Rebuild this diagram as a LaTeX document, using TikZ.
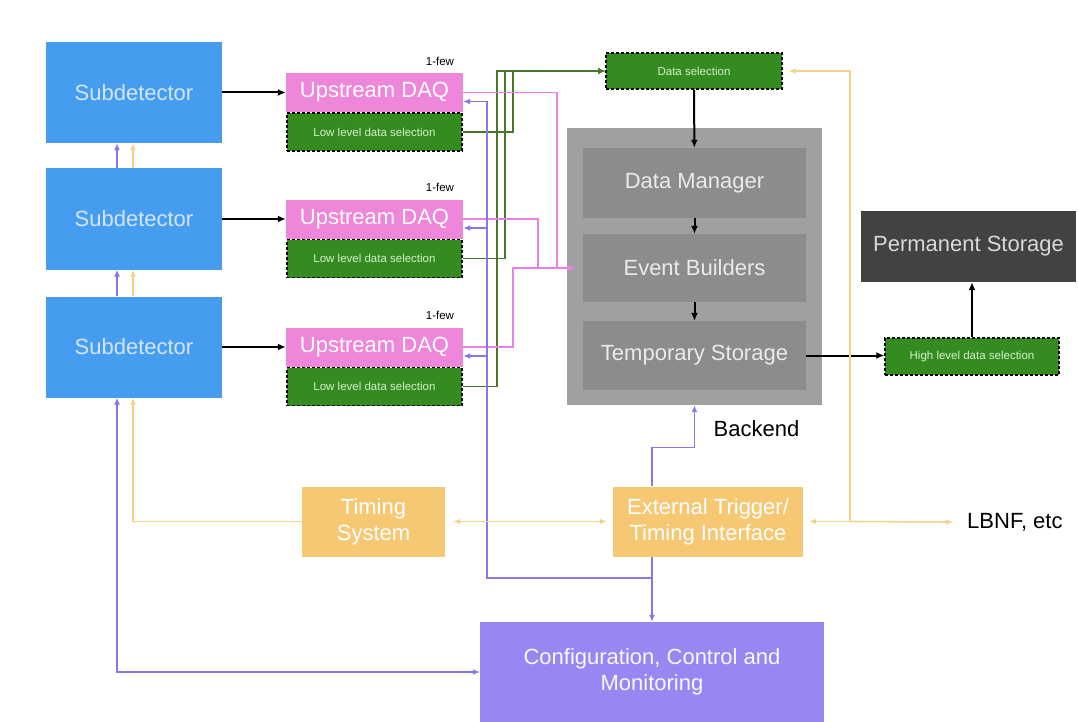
\documentclass[tikz,border=0pt]{standalone}
\usepackage{fontspec}
\setmainfont{Liberation Sans}
\usepackage{tikz}
\usetikzlibrary{arrows.meta, positioning, calc}
\definecolor{sdBlue}{RGB}{70,157,240}
\definecolor{sdText}{RGB}{210,230,255}
\definecolor{daqPink}{RGB}{238,134,218}
\definecolor{selGreen}{RGB}{52,140,32}
\definecolor{selText}{RGB}{215,238,205}
\definecolor{selLine}{RGB}{72,118,44}
\definecolor{beGray}{RGB}{160,160,160}
\definecolor{beInner}{RGB}{140,140,140}
\definecolor{permDark}{RGB}{66,66,66}
\definecolor{tmOrange}{RGB}{246,200,115}
\definecolor{tmLine}{RGB}{244,210,135}
\definecolor{cfgPurple}{RGB}{152,134,242}
\definecolor{cfgLine}{RGB}{138,118,232}
\definecolor{pinkLine}{RGB}{230,130,232}

\begin{document}
\begin{tikzpicture}[x=1pt, y=-1pt,
    box/.style={inner sep=2pt, align=center, font=\fontsize{22}{26}\selectfont},
    subdet/.style={box, fill=sdBlue, text=sdText, minimum width=176pt, minimum height=101pt},
    daq/.style={box, fill=daqPink, text=white, minimum width=177pt, minimum height=39pt},
    selbox/.style={box, fill=selGreen, text=selText, draw=black, dashed, line width=1.3pt,
        dash pattern=on 3pt off 2pt, font=\fontsize{11.5}{13}\selectfont},
    grayin/.style={box, fill=beInner, text=white!92!black, minimum width=223pt},
    tmbox/.style={box, fill=tmOrange, text=white, minimum height=70pt},
    lbl/.style={inner sep=0pt, font=\fontsize{22}{26}\selectfont},
    blk/.style={line width=2pt, -{Latex[length=8pt,width=7pt]}},
    selline/.style={line width=1.8pt, selLine, -{Latex[length=7pt,width=6pt]}},
    pinkln/.style={line width=1.6pt, pinkLine, -{Latex[length=7pt,width=6pt]}},
    cfgln/.style={line width=1.6pt, cfgLine, -{Latex[length=7pt,width=6pt]}},
    tmln/.style={line width=1.6pt, tmLine, -{Latex[length=7pt,width=6pt]}}]
    \useasboundingbox (0,0) rectangle (1078,722);

    % front end: subdetector, upstream daq, low level selection
    \foreach \i/\y in {1/92.5, 2/219, 3/347} {
        \node[subdet] (sub\i) at (134,\y) {Subdetector};
        \node[daq] (daq\i) at (374.5,\y) {Upstream DAQ};
        \node[selbox, minimum width=175pt, minimum height=38pt] (low\i) at (374.5,\y+39.5) {Low level data selection};
        \node[inner sep=0pt, font=\fontsize{11.5}{13}\selectfont, above left=7pt and 9pt of daq\i.north east] (few\i) {1-few};
        \draw[blk] (sub\i) -- (daq\i);
    }

    % backend
    \node[box, fill=beGray, minimum width=255pt, minimum height=277pt] (backend) at (694.5,266.5) {};
    \node[grayin, minimum height=70pt] (dm) at (694.5,183) {Data Manager};
    \node[grayin, minimum height=68pt] (eb) at (694.5,268) {Event Builders};
    \node[grayin, minimum height=69pt] (ts) at (694.5,355.5) {Temporary Storage};
    \node[lbl, anchor=north west, below right=15pt and 19pt of backend.south] (belbl) {Backend};

    \node[selbox, minimum width=176pt, minimum height=36pt] (dsel) at (694,71) {Data selection};
    \node[selbox, minimum width=174pt, minimum height=37pt] (hsel) at (972,356.5) {High level data selection};
    \node[box, fill=permDark, text=white!85!black, minimum width=215pt, minimum height=71pt] (perm) at (968.5,246.5) {Permanent Storage};

    % timing and control
    \node[tmbox, minimum width=143pt] (timing) at (373.5,521.5) {Timing\\System};
    \node[tmbox, minimum width=190pt] (etti) at (708,521.5) {External Trigger/\\Timing Interface};
    \node[box, fill=cfgPurple, text=white!94!cfgPurple, minimum width=344pt, minimum height=100pt] (cfg) at (652,672) {Configuration, Control and\\Monitoring};
    \node[lbl, anchor=west] (lbnf) at (967,522) {LBNF, etc};

    % data path
    \draw[blk] (dsel) -- (dm);
    \draw[blk] (dm) -- (eb);
    \draw[blk] (eb) -- (ts);
    \draw[blk] (ts.east) -- (hsel.west |- ts.east);
    \draw[blk] (hsel.north) -- (hsel.north |- perm.south);
    \foreach \i/\dx in {1/92pt, 2/100pt, 3/108pt}
        \draw[selline] (low\i.east) -| ([xshift=-\dx]dsel.west) -- (dsel.west);
    \foreach \i/\dx in {1/26pt, 2/45pt, 3/70pt}
        \draw[pinkln] (daq\i.east) -| ([xshift=-\dx]eb.west) -- ([xshift=-8pt]eb.west);

    % configuration and control lines
    \coordinate (cj) at (652,578);
    \foreach \i in {1,2,3}
        \draw[cfgln] (cj) -| ([xshift=24pt,yshift=-9pt]daq\i.east) -- ([yshift=-9pt]daq\i.east);
    \draw[cfgln] (etti.south -| cfg.north) -- (cfg.north);
    \draw[cfgln] (etti.north -| cfg.north) -- ++(0,-39) -| (backend.south);
    \foreach \a/\b in {sub2/sub1, sub3/sub2} {
        \draw[cfgln] ([xshift=-17pt]\a.north) -- ([xshift=-17pt]\b.south);
        \draw[tmln] ([xshift=-1pt]\a.north) -- ([xshift=-1pt]\b.south);
    }
    \draw[cfgln, {Latex[length=7pt,width=6pt]}-{Latex[length=7pt,width=6pt]}] ([xshift=-17pt]sub3.south) |- (cfg.west);

    % timing lines
    \draw[tmln] (timing.west) -| ([xshift=-1pt]sub3.south);
    \draw[tmln, {Latex[length=7pt,width=6pt]}-{Latex[length=7pt,width=6pt]}] ([xshift=8pt]timing.east) -- ([xshift=-6pt]etti.west);
    \coordinate (tj) at (850,521.5);
    \draw[tmln] (tj) -- ([xshift=6pt]etti.east);
    \draw[tmln] (tj) -- ([xshift=-14pt]lbnf.west);
    \draw[tmln] (tj) |- ([xshift=6pt]dsel.east);
\end{tikzpicture}
\end{document}
